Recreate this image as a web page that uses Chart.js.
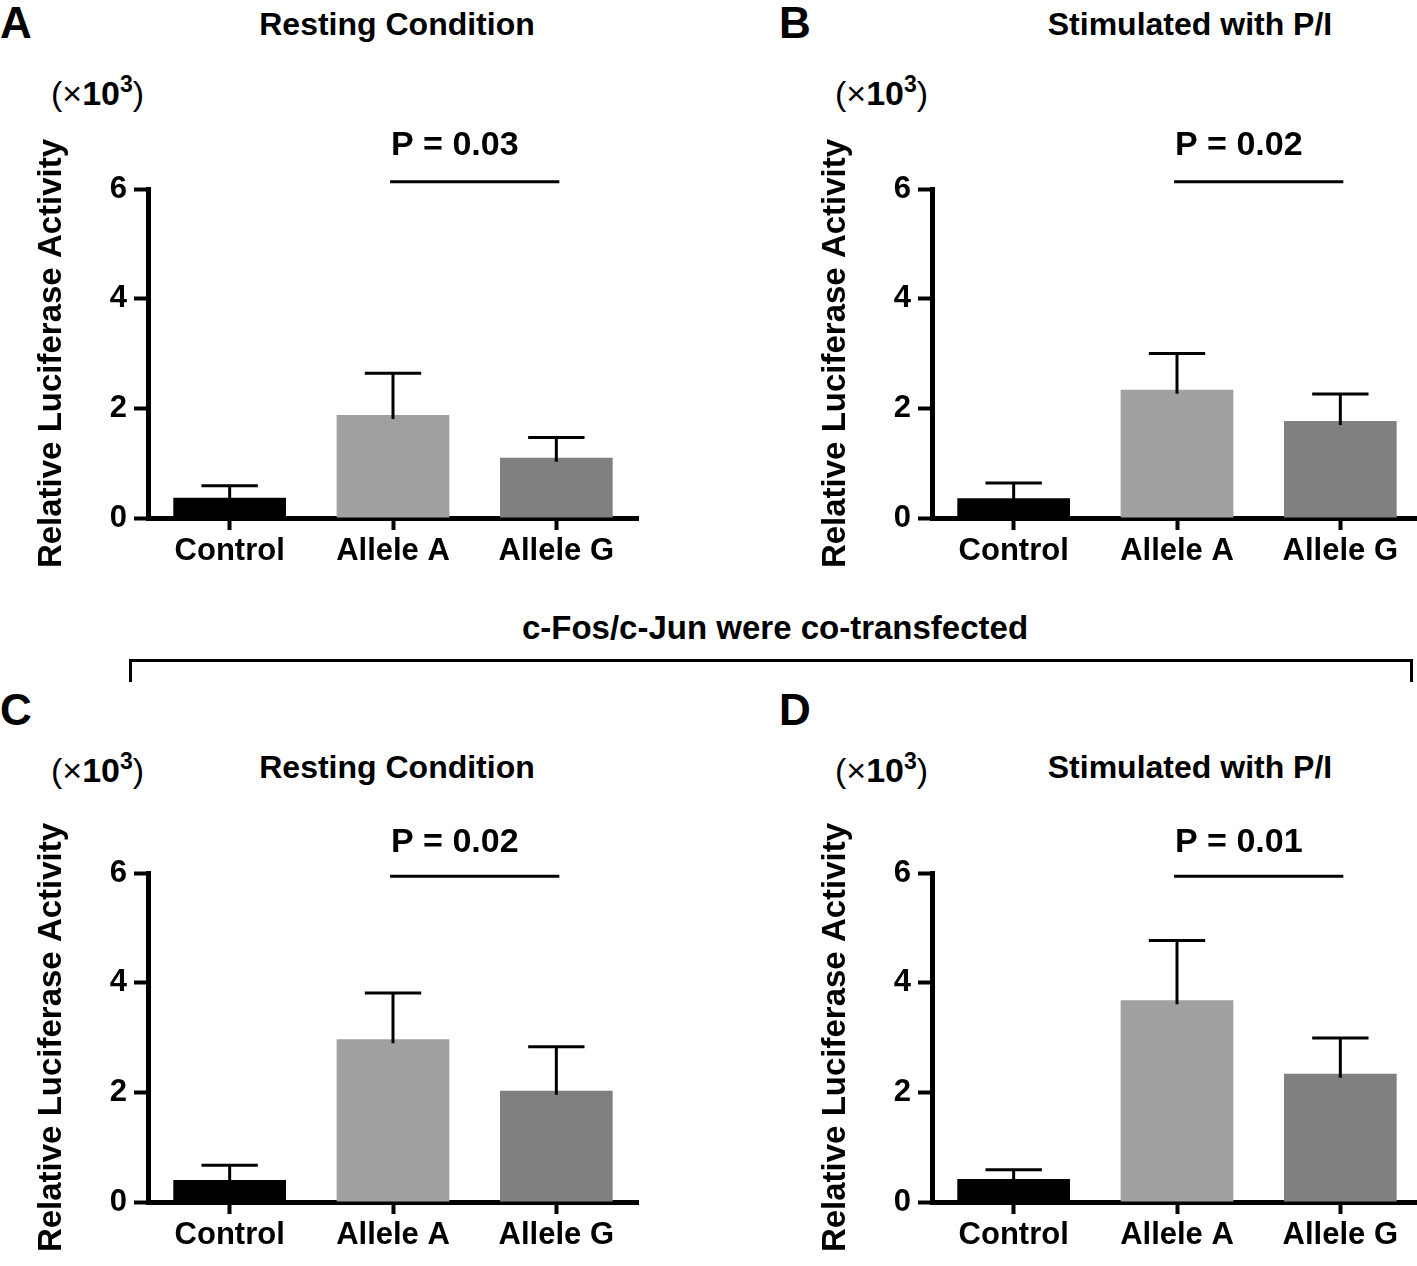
<!DOCTYPE html>
<html>
<head>
<meta charset="utf-8">
<script src="https://cdn.jsdelivr.net/npm/chart.js@4.4.0/dist/chart.umd.min.js"></script>
<style>
body { margin: 0; background: #fff; width: 1417px; height: 1266px; position: relative; overflow: hidden;
       font-family: "Liberation Sans", Arial, sans-serif; color: #000; }
canvas { position: absolute; }
.t { position: absolute; font-weight: bold; white-space: nowrap; line-height: 1; }
.letter { font-size: 44px; }
.title { font-size: 32px; width: 400px; text-align: center; }
.unit { font-size: 34px; font-weight: normal; }
.unit sup { font-size: 23px; font-weight: bold; vertical-align: 13px; }
.mid { font-size: 33px; width: 700px; text-align: center; }
.bracket { position: absolute; left: 129px; top: 659px; width: 1278px; height: 20px;
           border: 3px solid #000; border-bottom: none; }
</style>
</head>
<body>
<div class="t letter" style="left:0;top:1px">A</div>
<div class="t letter" style="left:779px;top:1px">B</div>
<div class="t letter" style="left:0;top:688px">C</div>
<div class="t letter" style="left:779px;top:688px">D</div>

<div class="t title" style="left:197px;top:8px">Resting Condition</div>
<div class="t title" style="left:990px;top:8px">Stimulated with P/I</div>
<div class="t title" style="left:197px;top:751px">Resting Condition</div>
<div class="t title" style="left:990px;top:751px">Stimulated with P/I</div>

<div class="t unit" style="left:51px;top:73px">(×<b>10</b><sup>3</sup>)</div>
<div class="t unit" style="left:835px;top:73px">(×<b>10</b><sup>3</sup>)</div>
<div class="t unit" style="left:51px;top:750px">(×<b>10</b><sup>3</sup>)</div>
<div class="t unit" style="left:835px;top:750px">(×<b>10</b><sup>3</sup>)</div>

<div class="t mid" style="left:425px;top:611px">c-Fos/c-Jun were co-transfected</div>
<div class="bracket"></div>

<canvas id="cA" width="660" height="600" style="left:0;top:0"></canvas>
<canvas id="cB" width="660" height="600" style="left:784px;top:0"></canvas>
<canvas id="cC" width="660" height="600" style="left:0;top:684px"></canvas>
<canvas id="cD" width="660" height="600" style="left:784px;top:684px"></canvas>

<script>
// values in units of 10^3
const categories = ['Control', 'Allele A', 'Allele G'];
const yTicks = [0, 2, 4, 6];
const barColors = ['#000000', '#a0a0a0', '#808080'];

const restingMean = [0.37, 1.88, 1.10];
const restingUpper = [0.59, 2.64, 1.47];
const stimMean = [0.36, 2.34, 1.77];
const stimUpper = [0.64, 3.00, 2.26];
const fosRestingMean = [0.40, 2.97, 2.03];
const fosRestingUpper = [0.67, 3.81, 2.83];
const fosStimMean = [0.42, 3.68, 2.34];
const fosStimUpper = [0.59, 4.77, 2.99];

const pLabels = ['P = 0.03', 'P = 0.02', 'P = 0.02', 'P = 0.01'];
const sigLevels = [6.13, 6.13, 5.94, 5.94];
const pTextLevels = [6.8, 6.8, 6.55, 6.55];

Chart.defaults.font.family = '"Liberation Sans", Arial, sans-serif';
Chart.defaults.color = '#000';

const errorBars = {
    id: 'errorBars',
    afterDatasetsDraw(chart, args, opts) {
        const ctx = chart.ctx;
        const meta = chart.getDatasetMeta(0);
        const y = chart.scales.y;
        ctx.save();
        ctx.strokeStyle = '#000';
        ctx.lineWidth = 3;
        meta.data.forEach((bar, i) => {
            const top = y.getPixelForValue(opts.upper[i]);
            const half = bar.width / 4;
            ctx.beginPath();
            ctx.moveTo(bar.x, bar.y + 4);
            ctx.lineTo(bar.x, top);
            ctx.moveTo(bar.x - half, top);
            ctx.lineTo(bar.x + half, top);
            ctx.stroke();
        });
        // significance line between allele A and allele G
        const a = meta.data[1], g = meta.data[2];
        const ly = y.getPixelForValue(opts.sigLevel);
        ctx.beginPath();
        ctx.moveTo(a.x - 3, ly);
        ctx.lineTo(g.x + 3, ly);
        ctx.stroke();
        ctx.fillStyle = '#000';
        ctx.font = 'bold 34px "Liberation Sans", Arial, sans-serif';
        ctx.textAlign = 'left';
        ctx.textBaseline = 'middle';
        ctx.fillText(opts.pText, a.x - 2, y.getPixelForValue(opts.textLevel));
        ctx.restore();
    }
};

function makePanel(id, means, upper, idx) {
    return new Chart(document.getElementById(id), {
        type: 'bar',
        data: {
            labels: categories,
            datasets: [{
                data: means,
                backgroundColor: barColors,
                borderWidth: 0,
                categoryPercentage: 1,
                barPercentage: 0.69
            }]
        },
        plugins: [errorBars],
        options: {
            responsive: false,
            animation: false,
            layout: { padding: { top: 189, right: 22, bottom: 0, left: 0 } },
            scales: {
                x: {
                    afterFit: s => { s.height = 82; },
                    grid: { display: true, offset: false, drawOnChartArea: false, drawTicks: true,
                            tickLength: 12, tickWidth: 4, tickColor: '#000' },
                    border: { display: true, color: '#000', width: 5 },
                    ticks: { padding: 3, font: { size: 31, weight: 'bold' }, color: '#000' }
                },
                y: {
                    min: 0,
                    max: 6,
                    afterFit: s => { s.width = 148; },
                    afterBuildTicks: s => { s.ticks = yTicks.map(v => ({ value: v })); },
                    grid: { display: true, drawOnChartArea: false, drawTicks: true,
                            tickLength: 14, tickWidth: 4, tickColor: '#000' },
                    border: { display: true, color: '#000', width: 5 },
                    ticks: { padding: 7, font: { size: 31, weight: 'bold' }, color: '#000' },
                    title: {
                        display: true,
                        text: 'Relative Luciferase Activity',
                        font: { size: 33, weight: 'bold' },
                        color: '#000',
                        padding: { top: 32, bottom: 0 }
                    }
                }
            },
            plugins: {
                legend: { display: false },
                tooltip: { enabled: false },
                errorBars: {
                    upper: upper,
                    pText: pLabels[idx],
                    sigLevel: sigLevels[idx],
                    textLevel: pTextLevels[idx]
                }
            }
        }
    });
}

makePanel('cA', restingMean, restingUpper, 0);
makePanel('cB', stimMean, stimUpper, 1);
makePanel('cC', fosRestingMean, fosRestingUpper, 2);
makePanel('cD', fosStimMean, fosStimUpper, 3);
</script>
</body>
</html>
